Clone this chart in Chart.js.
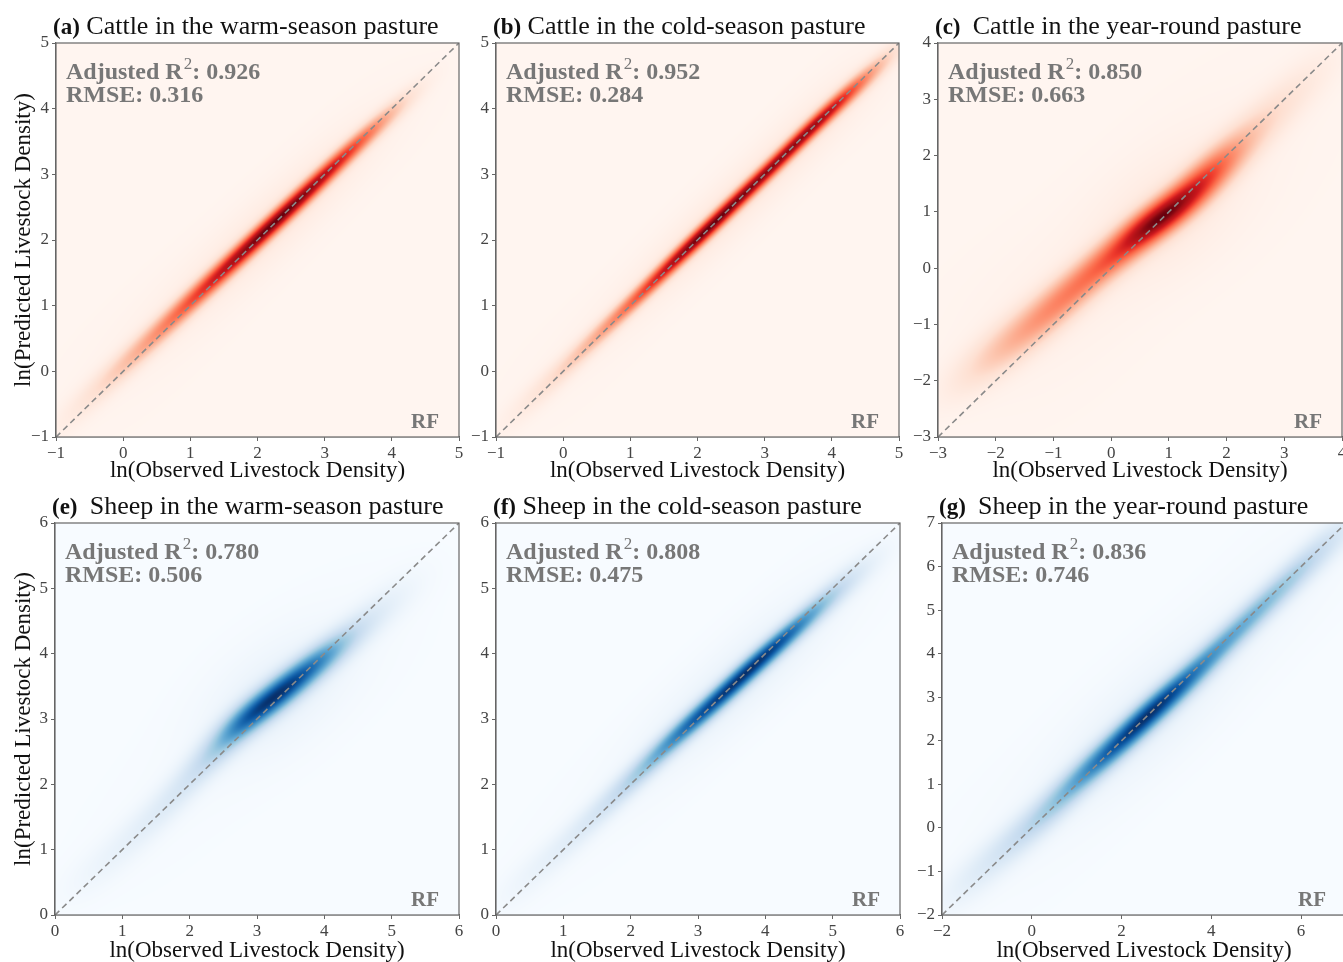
<!DOCTYPE html>
<html lang="en">
<head>
<meta charset="UTF-8">
<title>RF predicted vs observed livestock density</title>
<script src="https://cdn.jsdelivr.net/npm/chart.js"></script>
<style>
  html, body { margin: 0; padding: 0; background: #fff; overflow: hidden; }
  body { width: 1343px; height: 962px; position: relative; }
  .panel { position: absolute; }
</style>
</head>
<body>
<div class="panel" id="p0"><canvas id="c0"></canvas></div>
<div class="panel" id="p1"><canvas id="c1"></canvas></div>
<div class="panel" id="p2"><canvas id="c2"></canvas></div>
<div class="panel" id="p3"><canvas id="c3"></canvas></div>
<div class="panel" id="p4"><canvas id="c4"></canvas></div>
<div class="panel" id="p5"><canvas id="c5"></canvas></div>
<script>
// ---- data ----
const panelTags = ['(a)', '(b)', '(c) ', '(e) ', '(f)', '(g) '];
const panelTitles = [
  'Cattle in the warm-season pasture',
  'Cattle in the cold-season pasture',
  'Cattle in the year-round pasture',
  'Sheep in the warm-season pasture',
  'Sheep in the cold-season pasture',
  'Sheep in the year-round pasture'
];
const adjR2 = ['0.926', '0.952', '0.850', '0.780', '0.808', '0.836'];
const rmse = ['0.316', '0.284', '0.663', '0.506', '0.475', '0.746'];
const axisMin = [-1, -1, -3, 0, 0, -2];
const axisMax = [5, 5, 4, 6, 6, 7];
const xStep = [1, 1, 1, 1, 1, 2];
const yStep = [1, 1, 1, 1, 1, 1];

// density ridge: observed, predicted, relative weight, spread across the ridge
const aObs  = [-0.7, -0.3, 0.1, 0.5, 0.9, 1.3, 1.7, 2.1, 2.5, 2.9, 3.3, 3.7, 4.1];
const aPred = [-0.6, -0.2, 0.18, 0.57, 0.96, 1.35, 1.73, 2.12, 2.5, 2.89, 3.28, 3.66, 4.03];
const aWt   = [0.05, 0.1, 0.2, 0.32, 0.48, 0.65, 0.85, 1.0, 0.98, 0.85, 0.65, 0.38, 0.1];
const aSd   = [0.15, 0.13, 0.12, 0.11, 0.1, 0.095, 0.09, 0.085, 0.085, 0.085, 0.085, 0.09, 0.11];

const bObs  = [-0.6, -0.2, 0.2, 0.6, 1.0, 1.4, 1.8, 2.2, 2.6, 3.0, 3.4, 3.8, 4.2, 4.6];
const bPred = [-0.55, -0.16, 0.23, 0.63, 1.02, 1.42, 1.82, 2.21, 2.61, 3.0, 3.4, 3.8, 4.18, 4.56];
const bWt   = [0.04, 0.08, 0.15, 0.25, 0.4, 0.6, 0.85, 0.95, 0.85, 0.8, 0.82, 0.85, 0.6, 0.2];
const bSd   = [0.14, 0.12, 0.1, 0.09, 0.08, 0.075, 0.075, 0.075, 0.075, 0.075, 0.075, 0.075, 0.085, 0.1];

const cObs  = [-2.2, -1.6, -1.0, -0.4, 0.2, 0.6, 1.0, 1.4, 1.8, 2.2, 2.8, 3.4];
const cPred = [-1.7, -1.2, -0.7, -0.15, 0.35, 0.7, 1.0, 1.35, 1.75, 2.15, 2.75, 3.35];
const cWt   = [0.14, 0.26, 0.38, 0.5, 0.65, 0.84, 1.0, 0.82, 0.5, 0.26, 0.12, 0.05];
const cSd   = [0.25, 0.24, 0.22, 0.2, 0.19, 0.18, 0.18, 0.19, 0.2, 0.22, 0.24, 0.25];

const eObs  = [0.5, 0.9, 1.3, 1.7, 2.1, 2.5, 2.8, 3.1, 3.4, 3.7, 4.0, 4.3, 4.7, 5.1];
const ePred = [0.6, 0.95, 1.35, 1.75, 2.2, 2.65, 2.95, 3.2, 3.45, 3.7, 3.95, 4.2, 4.55, 4.9];
const eWt   = [0.03, 0.05, 0.07, 0.1, 0.17, 0.42, 0.75, 0.95, 1.0, 0.8, 0.55, 0.3, 0.12, 0.04];
const eSd   = [0.2, 0.18, 0.17, 0.16, 0.15, 0.15, 0.14, 0.14, 0.14, 0.14, 0.14, 0.15, 0.17, 0.2];

const fObs  = [0.3, 0.7, 1.1, 1.5, 1.9, 2.3, 2.7, 3.1, 3.5, 3.9, 4.3, 4.7, 5.1, 5.5];
const fPred = [0.4, 0.78, 1.15, 1.55, 1.95, 2.35, 2.75, 3.12, 3.5, 3.88, 4.25, 4.62, 5.0, 5.35];
const fWt   = [0.03, 0.05, 0.08, 0.12, 0.2, 0.38, 0.65, 0.85, 0.95, 1.0, 0.8, 0.45, 0.18, 0.05];
const fSd   = [0.18, 0.16, 0.14, 0.13, 0.12, 0.11, 0.105, 0.1, 0.1, 0.1, 0.1, 0.11, 0.13, 0.16];

const gObs  = [-1.6, -1.0, -0.4, 0.2, 0.8, 1.4, 2.0, 2.6, 3.2, 3.8, 4.4, 5.0, 5.6, 6.2, 6.8];
const gPred = [-1.4, -0.85, -0.3, 0.25, 0.85, 1.45, 2.0, 2.6, 3.15, 3.75, 4.35, 4.95, 5.55, 6.15, 6.75];
const gWt   = [0.06, 0.1, 0.16, 0.25, 0.4, 0.6, 0.85, 1.0, 0.8, 0.55, 0.45, 0.4, 0.32, 0.22, 0.12];
const gSd   = [0.3, 0.27, 0.25, 0.23, 0.21, 0.2, 0.19, 0.19, 0.19, 0.19, 0.19, 0.19, 0.2, 0.22, 0.24];

const ridges = [
  [aObs, aPred, aWt, aSd], [bObs, bPred, bWt, bSd], [cObs, cPred, cWt, cSd],
  [eObs, ePred, eWt, eSd], [fObs, fPred, fWt, fSd], [gObs, gPred, gWt, gSd]
];

// ---- styling / layout ----
const reds  = ['#fff5f0','#fee0d2','#fcbba1','#fc9272','#fb6a4a','#ef3b2c','#cb181d','#a50f15','#67000d'];
const blues = ['#f7fbff','#deebf7','#c6dbef','#9ecae1','#6baed6','#4292c6','#2171b5','#08519c','#08306b'];
const layouts = [
  { left: 0,   top: 0,   w: 470, h: 482, yw: 56, xh: 45, padTop: 43, padRight: 11 },
  { left: 440, top: 0,   w: 470, h: 482, yw: 56, xh: 45, padTop: 43, padRight: 11 },
  { left: 880, top: 0,   w: 470, h: 482, yw: 58, xh: 45, padTop: 43, padRight: 8 },
  { left: 0,   top: 480, w: 470, h: 482, yw: 55, xh: 47, padTop: 43, padRight: 11 },
  { left: 440, top: 480, w: 470, h: 482, yw: 56, xh: 47, padTop: 43, padRight: 10 },
  { left: 880, top: 480, w: 475, h: 482, yw: 62, xh: 47, padTop: 43, padRight: 9 }
];
const serif = '"Liberation Serif", "Times New Roman", serif';

function hexToRgb(h) {
  return [parseInt(h.slice(1, 3), 16), parseInt(h.slice(3, 5), 16), parseInt(h.slice(5, 7), 16)];
}
function cmap(stops, t) {
  t = Math.max(0, Math.min(1, t));
  const s = t * (stops.length - 1);
  const i = Math.min(Math.floor(s), stops.length - 2);
  const f = s - i;
  const a = stops[i], b = stops[i + 1];
  return [a[0] + (b[0] - a[0]) * f, a[1] + (b[1] - a[1]) * f, a[2] + (b[2] - a[2]) * f];
}

// draws the density field into the chart area using the chart's scales
const kdePlugin = {
  id: 'kde',
  beforeDatasetsDraw(chart, args, opts) {
    const area = chart.chartArea;
    const xs = chart.scales.x, ys = chart.scales.y;
    const w = Math.round(area.right - area.left), h = Math.round(area.bottom - area.top);
    if (!chart.$kde) {
      const [ox, py, wt, sd] = opts.ridge;
      const n = ox.length;
      const pts = ox.map((x, i) => {
        const a = Math.max(i - 1, 0), b = Math.min(i + 1, n - 1);
        const dx = ox[b] - ox[a], dy = py[b] - py[a];
        const L = Math.hypot(dx, dy);
        const spacing = L / (b - a);
        return { x, y: py[i], w: wt[i], sc: sd[i], ux: dx / L, uy: dy / L, sa: 0.8 * spacing };
      });
      const xv = new Float32Array(w), yv = new Float32Array(h);
      for (let i = 0; i < w; i++) xv[i] = xs.getValueForPixel(area.left + i + 0.5);
      for (let j = 0; j < h; j++) yv[j] = ys.getValueForPixel(area.top + j + 0.5);
      const dens = new Float32Array(w * h);
      let dmax = 0;
      for (let j = 0; j < h; j++) {
        for (let i = 0; i < w; i++) {
          let d = 0;
          for (const p of pts) {
            const rx = xv[i] - p.x, ry = yv[j] - p.y;
            const al = rx * p.ux + ry * p.uy;
            const ac = -rx * p.uy + ry * p.ux;
            const q = (al * al) / (p.sa * p.sa);
            d += p.w * Math.exp(-0.5 * (q + (ac * ac) / (p.sc * p.sc)));
            d += p.w * opts.halo * Math.exp(-0.5 * (q / 2.5 + (ac * ac) / (p.sc * p.sc * 12)));
          }
          dens[j * w + i] = d;
          if (d > dmax) dmax = d;
        }
      }
      const off = document.createElement('canvas');
      off.width = w; off.height = h;
      const octx = off.getContext('2d');
      const img = octx.createImageData(w, h);
      const stops = opts.colors.map(hexToRgb);
      for (let k = 0; k < w * h; k++) {
        const c = cmap(stops, Math.pow(dens[k] / dmax, opts.gamma));
        img.data[k * 4] = c[0];
        img.data[k * 4 + 1] = c[1];
        img.data[k * 4 + 2] = c[2];
        img.data[k * 4 + 3] = 255;
      }
      octx.putImageData(img, 0, 0);
      chart.$kde = off;
    }
    chart.ctx.drawImage(chart.$kde, area.left, area.top, w, h);
  }
};

// titles, statistics and frame
const textPlugin = {
  id: 'panelText',
  afterDraw(chart, args, opts) {
    const { ctx, chartArea: a } = chart;
    ctx.save();
    ctx.strokeStyle = '#666';
    ctx.lineWidth = 1.2;
    ctx.strokeRect(a.left, a.top, a.right - a.left, a.bottom - a.top);

    ctx.textBaseline = 'alphabetic';
    ctx.textAlign = 'left';
    ctx.fillStyle = '#111';
    let x = a.left - 3;
    const ty = a.top - 9;
    ctx.font = 'bold 23px ' + serif;
    ctx.fillText(opts.tag, x, ty);
    x += ctx.measureText(opts.tag).width;
    ctx.font = '26px ' + serif;
    ctx.fillText(' ' + opts.title, x, ty);

    ctx.fillStyle = '#777';
    x = a.left + 10;
    ctx.font = 'bold 24px ' + serif;
    ctx.fillText('Adjusted R', x, a.top + 36);
    x += ctx.measureText('Adjusted R').width + 1;
    ctx.font = '17px ' + serif;
    ctx.fillText('2', x, a.top + 26);
    x += ctx.measureText('2').width;
    ctx.font = 'bold 24px ' + serif;
    ctx.fillText(': ' + opts.r2, x, a.top + 36);
    ctx.fillText('RMSE: ' + opts.rmse, a.left + 10, a.top + 59);

    ctx.font = 'bold 21px ' + serif;
    ctx.textAlign = 'right';
    ctx.fillText('RF', a.right - 20, a.bottom - 9);
    ctx.restore();
  }
};

const minus = v => String(v).replace('-', '\u2212');

for (let k = 0; k < 6; k++) {
  const L = layouts[k];
  const box = document.getElementById('p' + k);
  box.style.left = L.left + 'px';
  box.style.top = L.top + 'px';
  box.style.width = L.w + 'px';
  box.style.height = L.h + 'px';
  const lo = axisMin[k], hi = axisMax[k];
  const tickFont = { family: serif, size: 17 };
  new Chart(document.getElementById('c' + k), {
    type: 'scatter',
    data: {
      datasets: [{
        type: 'line',
        data: [{ x: lo, y: lo }, { x: hi, y: hi }],
        borderColor: '#8a8a8a',
        borderWidth: 1.6,
        borderDash: [6, 4],
        pointRadius: 0,
        fill: false
      }]
    },
    options: {
      responsive: true,
      maintainAspectRatio: false,
      animation: false,
      devicePixelRatio: 1,
      layout: { padding: { top: L.padTop, right: L.padRight, left: 0, bottom: 0 } },
      plugins: {
        legend: { display: false },
        tooltip: { enabled: false },
        kde: { ridge: ridges[k], colors: k < 3 ? reds : blues, gamma: 0.9, halo: 0.04 },
        panelText: { tag: panelTags[k], title: panelTitles[k], r2: adjR2[k], rmse: rmse[k] }
      },
      scales: {
        x: {
          type: 'linear', min: lo, max: hi,
          ticks: { stepSize: xStep[k], includeBounds: false, font: tickFont, color: '#444', padding: 2, maxRotation: 0, callback: minus },
          grid: { display: true, drawOnChartArea: false, tickLength: 4, color: '#666' },
          border: { color: '#666', width: 1.2 },
          title: { display: true, text: 'ln(Observed Livestock Density)', font: { family: serif, size: 23, lineHeight: 1 }, color: '#111', padding: 0 },
          afterFit(s) { s.height = L.xh; }
        },
        y: {
          type: 'linear', min: lo, max: hi,
          ticks: { stepSize: yStep[k], includeBounds: false, font: tickFont, color: '#444', padding: 3, callback: minus },
          grid: { display: true, drawOnChartArea: false, tickLength: 4, color: '#666' },
          border: { color: '#666', width: 1.2 },
          title: { display: k % 3 === 0, text: 'ln(Predicted Livestock Density)', font: { family: serif, size: 23, lineHeight: 1 }, color: '#111', padding: { top: 12, bottom: 0 } },
          afterFit(s) { s.width = L.yw; }
        }
      }
    },
    plugins: [kdePlugin, textPlugin]
  });
}
</script>
</body>
</html>
